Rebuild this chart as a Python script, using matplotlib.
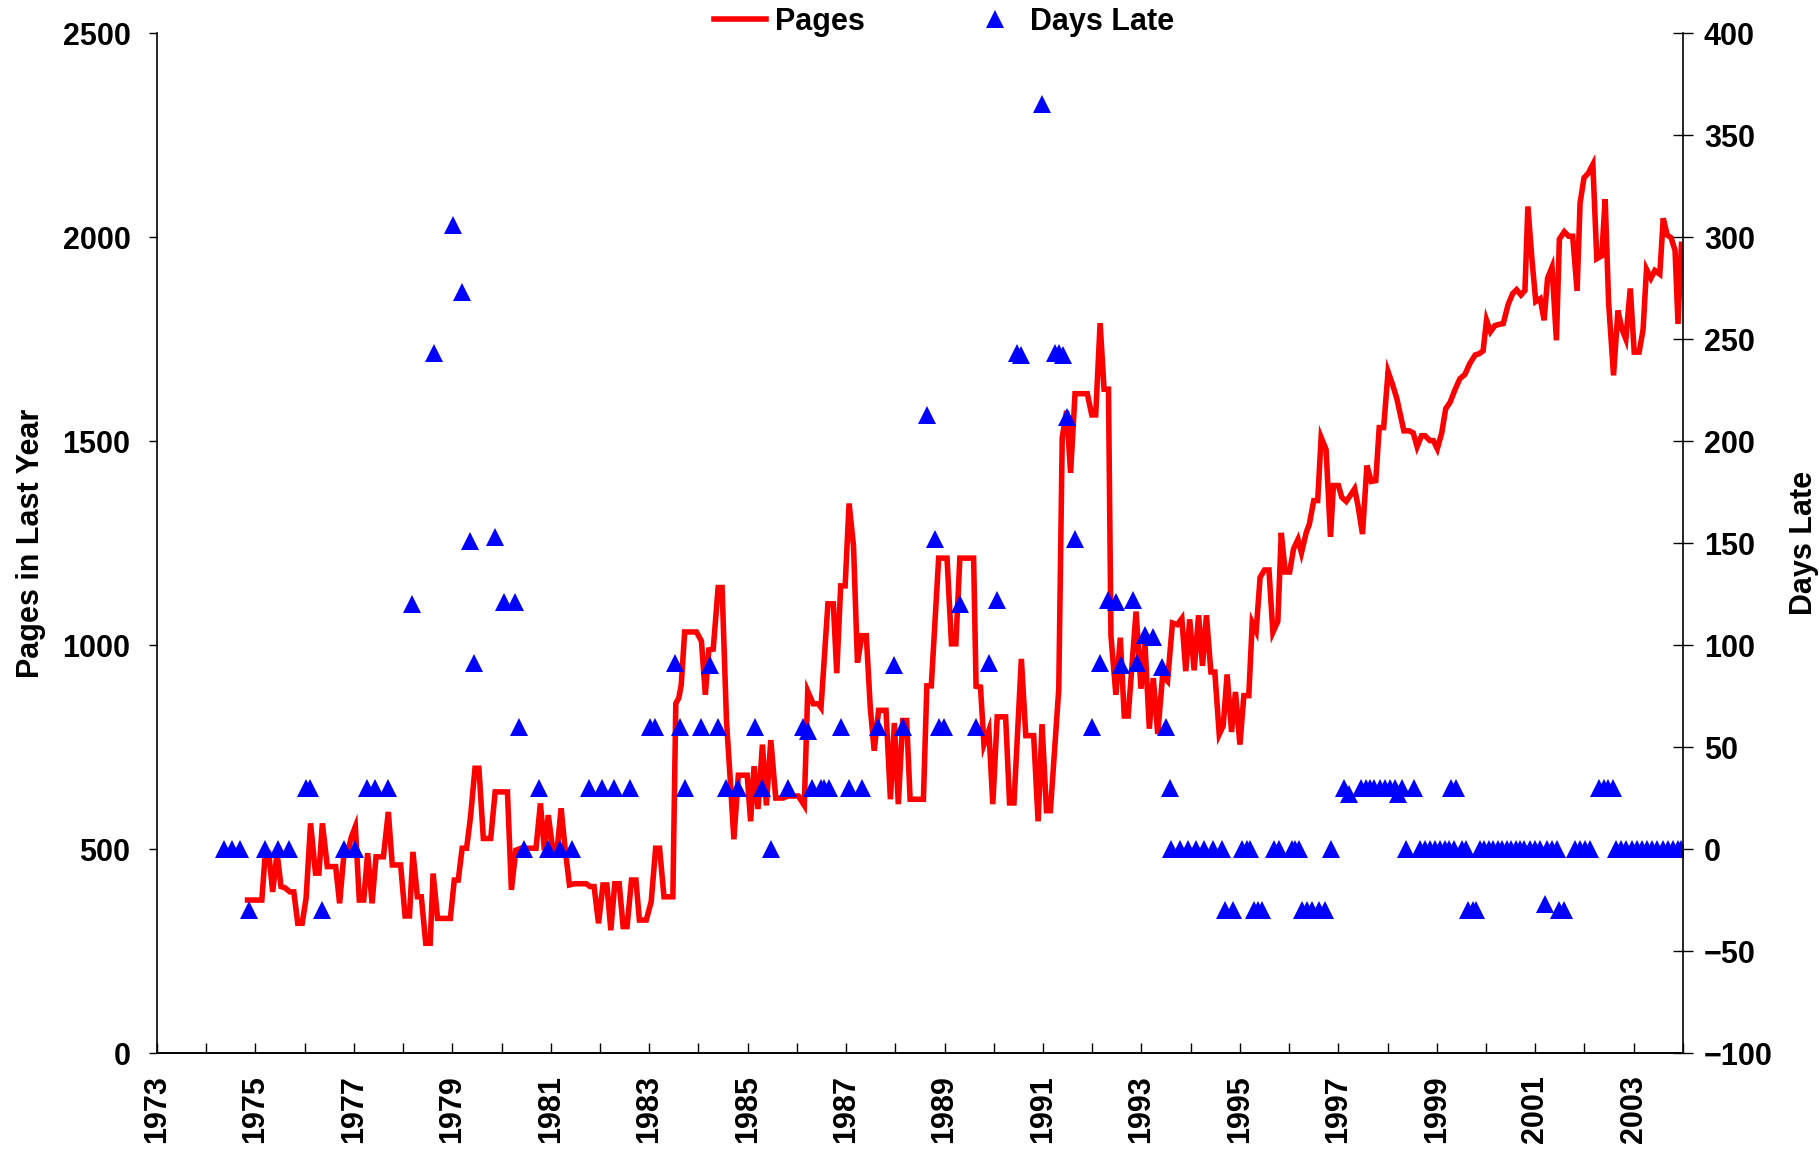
import matplotlib
matplotlib.use("Agg")
import matplotlib.pyplot as plt
from matplotlib.lines import Line2D

plt.rcParams['font.family'] = ['Liberation Sans', 'DejaVu Sans']
plt.rcParams['font.weight'] = 'bold'
plt.rcParams['axes.labelweight'] = 'bold'
plt.rcParams['font.size'] = 22

# pages published in the preceding year
page_years = [
    1974.84, 1975.13, 1975.2, 1975.27, 1975.35, 1975.44, 1975.52, 1975.6, 1975.7, 1975.78,
    1975.86, 1975.95, 1976.03, 1976.12, 1976.22, 1976.29, 1976.36, 1976.46, 1976.63, 1976.71,
    1976.8, 1976.87, 1976.95, 1977.03, 1977.11, 1977.2, 1977.28, 1977.37, 1977.45, 1977.6,
    1977.7, 1977.78, 1977.95, 1978.04, 1978.13, 1978.2, 1978.29, 1978.37, 1978.46, 1978.55,
    1978.61, 1978.7, 1978.96, 1979.04, 1979.12, 1979.2, 1979.29, 1979.37, 1979.46, 1979.54,
    1979.63, 1979.78, 1979.87, 1980.12, 1980.2, 1980.29, 1980.4, 1980.7, 1980.79, 1980.87,
    1980.95, 1981.04, 1981.13, 1981.21, 1981.29, 1981.38, 1981.48, 1981.72, 1981.8, 1981.88,
    1981.97, 1982.06, 1982.14, 1982.22, 1982.3, 1982.39, 1982.47, 1982.55, 1982.64, 1982.73,
    1982.8, 1982.94, 1983.04, 1983.13, 1983.21, 1983.3, 1983.48, 1983.54, 1983.6, 1983.65,
    1983.72, 1983.96, 1984.06, 1984.14, 1984.21, 1984.3, 1984.4, 1984.48, 1984.57, 1984.64,
    1984.72, 1984.81, 1984.99, 1985.06, 1985.13, 1985.21, 1985.3, 1985.38, 1985.47, 1985.57,
    1985.72, 1985.82, 1986.03, 1986.15, 1986.22, 1986.33, 1986.44, 1986.49, 1986.63, 1986.74,
    1986.81, 1986.89, 1986.98, 1987.06, 1987.15, 1987.23, 1987.32, 1987.41, 1987.49, 1987.57,
    1987.66, 1987.81, 1987.9, 1987.98, 1988.06, 1988.15, 1988.23, 1988.3, 1988.57, 1988.64,
    1988.73, 1988.88, 1989.05, 1989.14, 1989.23, 1989.31, 1989.59, 1989.64, 1989.73, 1989.8,
    1989.9, 1989.98, 1990.07, 1990.24, 1990.32, 1990.41, 1990.56, 1990.65, 1990.81, 1990.9,
    1990.98, 1991.07, 1991.15, 1991.32, 1991.39, 1991.48, 1991.56, 1991.65, 1991.9, 1991.99,
    1992.07, 1992.16, 1992.24, 1992.33, 1992.38, 1992.48, 1992.57, 1992.65, 1992.73, 1992.89,
    1992.99, 1993.07, 1993.16, 1993.24, 1993.33, 1993.43, 1993.53, 1993.63, 1993.73, 1993.82,
    1993.9, 1993.98, 1994.07, 1994.16, 1994.24, 1994.32, 1994.41, 1994.49, 1994.58, 1994.66,
    1994.74, 1994.83, 1994.91, 1995.0, 1995.08, 1995.18, 1995.25, 1995.33, 1995.41, 1995.5,
    1995.59, 1995.67, 1995.77, 1995.84, 1995.92, 1996.01, 1996.09, 1996.18, 1996.25, 1996.35,
    1996.41, 1996.5, 1996.58, 1996.65, 1996.75, 1996.84, 1996.9, 1997.0, 1997.07, 1997.16,
    1997.25, 1997.33, 1997.4, 1997.49, 1997.58, 1997.67, 1997.76, 1997.83, 1997.92, 1998.01,
    1998.1, 1998.19, 1998.33, 1998.44, 1998.52, 1998.6, 1998.69, 1998.76, 1998.86, 1998.93,
    1999.01, 1999.1, 1999.18, 1999.27, 1999.37, 1999.47, 1999.57, 1999.67, 1999.78, 1999.86,
    1999.94, 2000.01, 2000.09, 2000.18, 2000.27, 2000.35, 2000.45, 2000.54, 2000.62, 2000.71,
    2000.79, 2000.85, 2000.93, 2001.01, 2001.1, 2001.18, 2001.25, 2001.34, 2001.43, 2001.49,
    2001.59, 2001.68, 2001.76, 2001.85, 2001.91, 2001.99, 2002.08, 2002.17, 2002.25, 2002.35,
    2002.42, 2002.49, 2002.59, 2002.68, 2002.76, 2002.84, 2002.93, 2003.01, 2003.11, 2003.19,
    2003.26, 2003.35, 2003.43, 2003.53, 2003.6, 2003.68, 2003.76, 2003.84, 2003.9, 2003.97,
]
pages = [
    375, 375, 490, 490, 395, 490, 408, 405, 395, 395,
    318, 318, 380, 563, 441, 441, 563, 457, 457, 367,
    490, 490, 530, 555, 375, 375, 490, 367, 481, 481,
    591, 461, 461, 336, 336, 493, 383, 383, 269, 269,
    440, 330, 330, 424, 424, 502, 502, 579, 698, 698,
    526, 526, 640, 640, 400, 497, 502, 502, 612, 497,
    583, 500, 500, 600, 502, 412, 415, 415, 408, 408,
    318, 412, 412, 301, 415, 415, 310, 310, 424, 424,
    326, 326, 371, 502, 502, 383, 383, 857, 870, 902,
    1032, 1032, 1010, 878, 988, 990, 1141, 1141, 813, 681,
    524, 681, 681, 568, 703, 598, 756, 607, 767, 625,
    625, 630, 630, 607, 887, 856, 856, 847, 1101, 1101,
    931, 1145, 1145, 1347, 1243, 957, 1023, 1023, 848, 741,
    840, 840, 622, 809, 610, 815, 815, 622, 622, 900,
    900, 1213, 1213, 1003, 1003, 1213, 1213, 899, 897, 756,
    791, 610, 824, 824, 613, 613, 966, 778, 778, 568,
    806, 594, 594, 892, 1509, 1574, 1422, 1616, 1616, 1564,
    1564, 1789, 1627, 1627, 1023, 878, 1018, 826, 826, 1082,
    893, 1005, 795, 919, 782, 926, 912, 1054, 1050, 1065,
    936, 1063, 938, 1073, 949, 1073, 934, 934, 781, 802,
    928, 787, 885, 756, 876, 876, 1055, 1034, 1166, 1184,
    1184, 1031, 1058, 1275, 1179, 1179, 1236, 1259, 1226, 1277,
    1296, 1354, 1354, 1509, 1479, 1265, 1391, 1391, 1362, 1352,
    1368, 1383, 1341, 1272, 1440, 1401, 1403, 1533, 1533, 1670,
    1639, 1603, 1525, 1525, 1520, 1486, 1513, 1513, 1501, 1501,
    1481, 1520, 1579, 1595, 1626, 1653, 1663, 1690, 1711, 1714,
    1721, 1796, 1768, 1783, 1786, 1788, 1835, 1861, 1871, 1858,
    1869, 2075, 1949, 1842, 1849, 1796, 1899, 1926, 1747, 1995,
    2013, 2002, 2002, 1868, 2083, 2145, 2157, 2178, 1947, 1954,
    2093, 1840, 1661, 1820, 1775, 1750, 1874, 1718, 1718, 1773,
    1921, 1899, 1918, 1909, 2046, 2005, 1998, 1967, 1787, 1982,
]

# days late of each issue
late_years = [
    1974.36, 1974.52, 1974.69, 1974.86, 1975.2, 1975.45, 1975.69, 1976.03, 1976.11, 1976.35,
    1976.79, 1977.02, 1977.27, 1977.43, 1977.69, 1978.19, 1978.62, 1979.02, 1979.19, 1979.36,
    1979.44, 1979.86, 1980.04, 1980.28, 1980.36, 1980.45, 1980.77, 1980.95, 1981.19, 1981.44,
    1981.78, 1982.04, 1982.28, 1982.6, 1983.02, 1983.12, 1983.53, 1983.62, 1983.72, 1984.05,
    1984.23, 1984.39, 1984.55, 1984.81, 1985.15, 1985.3, 1985.47, 1985.81, 1986.13, 1986.22,
    1986.3, 1986.49, 1986.56, 1986.65, 1986.9, 1987.06, 1987.32, 1987.65, 1987.98, 1988.15,
    1988.64, 1988.81, 1988.88, 1988.99, 1989.31, 1989.64, 1989.9, 1990.07, 1990.47, 1990.56,
    1990.98, 1991.24, 1991.32, 1991.4, 1991.49, 1991.65, 1991.99, 1992.15, 1992.33, 1992.49,
    1992.58, 1992.82, 1992.9, 1993.07, 1993.24, 1993.41, 1993.5, 1993.58,
    1993.61, 1993.78, 1993.94, 1994.11, 1994.28, 1994.46, 1994.63, 1994.69, 1994.86, 1995.04,
    1995.14, 1995.21, 1995.28, 1995.37, 1995.44, 1995.7, 1995.79, 1996.05, 1996.12, 1996.21,
    1996.26, 1996.37, 1996.47, 1996.61, 1996.72, 1996.86, 1997.12, 1997.21, 1997.45, 1997.56,
    1997.64, 1997.72, 1997.84, 1997.95, 1998.05, 1998.16, 1998.21, 1998.3, 1998.54, 1998.37,
    1998.65, 1998.75, 1998.86, 1998.96, 1999.07, 1999.17, 1999.24, 1999.35, 1999.52, 1999.59,
    1999.28, 1999.38, 1999.63, 1999.73, 1999.8, 1999.87, 1999.96, 2000.05, 2000.15, 2000.24,
    2000.33, 2000.42, 2000.51, 2000.6, 2000.69, 2000.78, 2000.89, 2000.99, 2001.1, 2001.24,
    2001.34, 2001.45, 2001.2, 2001.48, 2001.59, 2001.8, 2001.9, 2002.01, 2002.11, 2002.29,
    2002.4, 2002.47, 2002.57, 2002.64, 2002.75, 2002.85, 2002.96, 2003.06, 2003.17, 2003.27,
    2003.38, 2003.48, 2003.59, 2003.69, 2003.8, 2003.9, 2003.97,
]
days_late = [
    0, 0, 0, -30, 0, 0, 0, 30, 30, -30,
    0, 0, 30, 30, 30, 120, 243, 306, 273, 151,
    91, 153, 121, 121, 60, 0, 30, 0, 0, 0,
    30, 30, 30, 30, 60, 60, 91, 60, 30, 60,
    90, 60, 30, 30, 60, 30, 0, 30, 60, 58,
    30, 30, 30, 30, 60, 30, 30, 60, 90, 60,
    213, 152, 60, 60, 120, 60, 91, 122, 243, 242,
    365, 243, 243, 242, 212, 152, 60, 91, 122, 121,
    90, 122, 91, 105, 104, 89, 60, 30,
    0, 0, 0, 0, 0, 0, 0, -30, -30, 0,
    0, 0, -30, -30, -30, 0, 0, 0, 0, 0,
    -30, -30, -30, -30, -30, 0, 30, 27, 30, 30,
    30, 30, 30, 30, 30, 30, 27, 30, 30, 0,
    0, 0, 0, 0, 0, 0, 0, 0, 0, 0,
    30, 30, -30, -30, -30, 0, 0, 0, 0, 0,
    0, 0, 0, 0, 0, 0, 0, 0, 0, 0,
    0, 0, -27, -30, -30, 0, 0, 0, 0, 30,
    30, 30, 30, 0, 0, 0, 0, 0, 0, 0,
    0, 0, 0, 0, 0, 0, 0,
]

year_ticks = list(range(1973, 2005))
year_labels = [str(y) if y % 2 == 1 else '' for y in year_ticks]
page_ticks = [0, 500, 1000, 1500, 2000, 2500]
day_ticks = list(range(-100, 401, 50))

fig = plt.figure(figsize=(18.19, 11.51), dpi=100)
ax = fig.add_axes([0.0863, 0.0851, 0.8389, 0.8862])
ax2 = ax.twinx()

ax.plot(page_years, pages, color='#ff0000', lw=4, solid_joinstyle='miter', zorder=3)
ax2.plot(late_years, days_late, ls='none', marker='^', ms=12.5, color='#0000ff',
         markeredgewidth=0)

ax.set_xlim(1973, 2004)
ax.set_ylim(0, 2500)
ax2.set_ylim(-100, 400)

ax.set_xticks(year_ticks)
ax.set_xticklabels(year_labels, rotation=90)
ax.set_yticks(page_ticks)
ax2.set_yticks(day_ticks)

ax.tick_params(axis='x', direction='in', length=7, width=1, pad=16)
ax.tick_params(axis='y', direction='out', length=6, width=1, pad=13)
ax2.tick_params(axis='y', direction='inout', length=14, width=1, pad=8)

for a in (ax, ax2):
    a.spines['top'].set_visible(False)
    for s in a.spines.values():
        s.set_linewidth(1.2)
ax2.spines['left'].set_visible(False)
ax.spines['right'].set_visible(False)

ax.set_ylabel('Pages in Last Year', labelpad=12)
ax2.set_ylabel('Days Late', labelpad=12)

handles = [
    Line2D([], [], color='#ff0000', lw=4),
    Line2D([], [], ls='none', marker='^', ms=12.5, color='#0000ff', markeredgewidth=0),
]
fig.legend(handles, ['Pages', 'Days Late'], loc='center', bbox_to_anchor=(0.519, 0.981),
           ncol=2, frameon=False, handlelength=1.7, handletextpad=0.3, columnspacing=3.4,
           borderaxespad=0)

fig.savefig('out.png', dpi=100)
